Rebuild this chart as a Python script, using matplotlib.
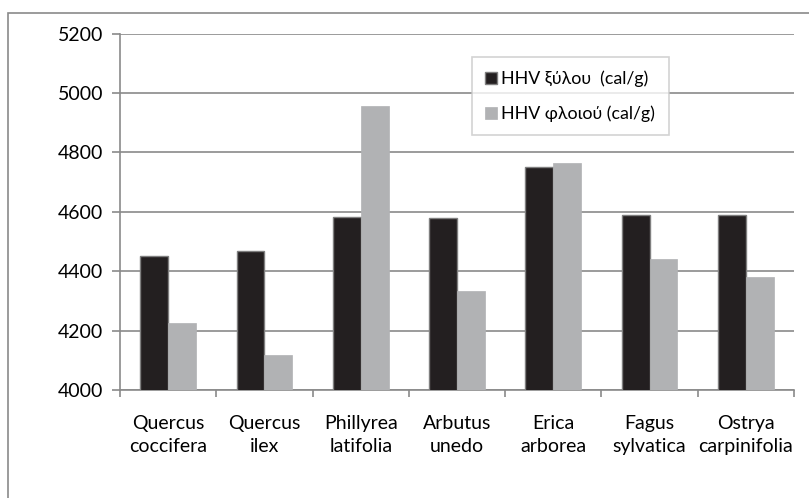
import numpy as np
import matplotlib.pyplot as plt
from matplotlib.patches import Rectangle

# Δεδομένα (τιμές εκτιμημένες από το διάγραμμα)
eidi = ["Quercus\ncoccifera", "Quercus\nilex", "Phillyrea\nlatifolia",
        "Arbutus\nunedo", "Erica\narborea", "Fagus\nsylvatica",
        "Ostrya\ncarpinifolia"]
hhv_xylou = [4452, 4469, 4584, 4579, 4751, 4588, 4588]
hhv_floiou = [4227, 4119, 4957, 4334, 4764, 4441, 4382]

COL_XYLO, COL_FLOIO = "#231f20", "#b1b2b4"
COL_AXIS = "#8a8a8a"

plt.rcParams['font.family'] = ['Lato', 'DejaVu Sans']
FS = 14

fig = plt.figure(figsize=(8.09, 4.98), dpi=100)
ax = fig.add_axes([120/809, 1 - 390/498, 674/809, (390 - 33.5)/498])

# πλαίσιο γύρω από όλο το διάγραμμα (κομμένο δεξιά και κάτω)
fig.patches.append(Rectangle((8/809, -0.1), 1.2, 1 - 13/498 + 0.1,
                             transform=fig.transFigure, fill=False,
                             edgecolor=COL_AXIS, lw=1.2))

x = np.arange(len(eidi))
w = 0.29
ax.bar(x - w/2, hhv_xylou, w, color=COL_XYLO, edgecolor="#7f7f7f", lw=1,
       label="HHV ξύλου  (cal/g)", zorder=3)
ax.bar(x + w/2, hhv_floiou, w, color=COL_FLOIO, edgecolor=COL_FLOIO, lw=0.5,
       label="HHV φλοιού (cal/g)", zorder=3)

ax.set_ylim(4000, 5200)
ax.set_yticks(np.arange(4000, 5201, 200))
ax.set_xlim(-0.5, len(eidi) - 0.5)
ax.yaxis.grid(True, color=COL_AXIS, lw=1.2)
ax.set_axisbelow(True)

# γραμμές υποδιαίρεσης στα όρια των κατηγοριών
ax.set_xticks(np.arange(len(eidi) + 1) - 0.5)
ax.set_xticklabels([])
ax.set_xticks(x, minor=True)
ax.set_xticklabels(eidi, minor=True, fontsize=FS, linespacing=1.4)
ax.tick_params(axis="x", which="minor", length=0, pad=18)
ax.tick_params(axis="x", which="major", length=5, color=COL_AXIS, width=1.2)
ax.tick_params(axis="y", length=6, color=COL_AXIS, width=1.2, labelsize=FS, pad=6)

for s in ["top", "right"]:
    ax.spines[s].set_visible(False)
for s in ["left", "bottom"]:
    ax.spines[s].set_color(COL_AXIS)
    ax.spines[s].set_linewidth(1.2)

leg = ax.legend(loc="upper left", bbox_to_anchor=((472 - 120)/674, 1 - (57 - 33.5)/356.5),
                fontsize=12.8, frameon=True, fancybox=False, handlelength=0.65,
                handleheight=0.65, handletextpad=0.25, labelspacing=1.05,
                borderpad=0.75, borderaxespad=0)
leg.get_frame().set_edgecolor("#c8c8c8")
leg.get_frame().set_linewidth(1.2)

fig.savefig("out.png", dpi=100)
